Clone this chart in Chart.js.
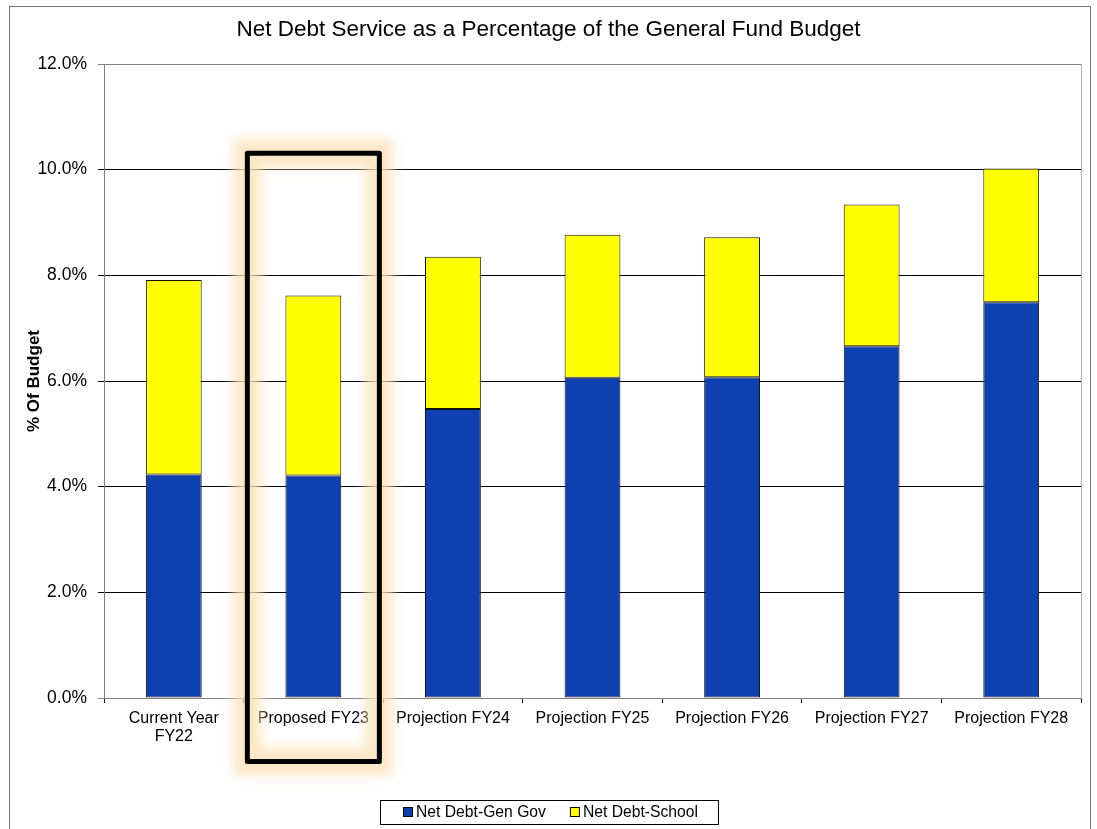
<!DOCTYPE html>
<html><head><meta charset="utf-8">
<script src="https://cdn.jsdelivr.net/npm/chart.js@4"></script>
<style>html,body{margin:0;padding:0;background:#fff;overflow:hidden}#wrap{width:1097px;height:829px;position:relative}canvas{display:block}</style>
</head><body><div id="wrap"><canvas id="c" width="1097" height="829"></canvas></div>
<script>
// ---- data ----
const categories = [['Current Year', 'FY22'], 'Proposed FY23', 'Projection FY24', 'Projection FY25', 'Projection FY26', 'Projection FY27', 'Projection FY28'];
const genGovValues = [4.23, 4.21, 5.47, 6.06, 6.07, 6.66, 7.49];
const schoolValues = [3.68, 3.41, 2.88, 2.71, 2.65, 2.68, 2.53];
const seriesNames = ['Net Debt-Gen Gov', 'Net Debt-School'];
const yTicks = [0, 2, 4, 6, 8, 10, 12];
const chartTitle = 'Net Debt Service as a Percentage of the General Fund Budget';
const yAxisTitle = '% Of Budget';
// highlighted category and its frame extent (in % units)
const highlightIndex = 1;
const highlightRange = [-1.20, 10.31];

const FONT = 'Arial, "Liberation Sans", sans-serif';
Chart.defaults.font.family = FONT;
Chart.defaults.color = '#000';

const framePlugin = {
  id: 'frame',
  beforeDraw(chart) {
    const ctx = chart.ctx;
    ctx.save();
    ctx.fillStyle = '#fff';
    ctx.fillRect(0, 0, chart.width, chart.height);
    ctx.strokeStyle = '#777';
    ctx.lineWidth = 1;
    ctx.strokeRect(9.5, 6.5, 1081, 900);
    ctx.restore();
  },
  beforeDatasetsDraw(chart) {
    const {ctx, chartArea: a} = chart;
    ctx.save();
    ctx.lineWidth = 1;
    ctx.strokeStyle = '#b0b0b0';
    ctx.beginPath();
    ctx.moveTo(Math.round(a.right) + 0.5, a.top);
    ctx.lineTo(Math.round(a.right) + 0.5, a.bottom);
    ctx.stroke();
    ctx.restore();
  }
};

const highlightPlugin = {
  id: 'highlight',
  afterDraw(chart) {
    const {ctx} = chart;
    const xs = chart.scales.x, ys = chart.scales.y;
    const cw = xs.getPixelForValue(1) - xs.getPixelForValue(0);
    const cx = xs.getPixelForValue(highlightIndex);
    const L = cx - cw * 0.473, R = cx + cw * 0.473;
    const T = ys.getPixelForValue(highlightRange[1]);
    const B = ys.getPixelForValue(highlightRange[0]);
    ctx.save();
    ctx.filter = 'blur(6px)';
    ctx.strokeStyle = 'rgba(251,226,185,0.8)';
    ctx.lineWidth = 28;
    ctx.strokeRect(L, T, R - L, B - T);
    ctx.filter = 'none';
    ctx.strokeStyle = '#000';
    ctx.lineWidth = 5;
    ctx.lineJoin = 'round';
    ctx.strokeRect(L, T, R - L, B - T);
    ctx.restore();
  }
};

const legendPlugin = {
  id: 'boxLegend',
  afterDraw(chart) {
    const {ctx} = chart;
    const items = chart.data.datasets.map(d => ({text: d.label, color: d.backgroundColor}));
    ctx.save();
    ctx.font = '15.7px ' + FONT;
    const widths = items.map(it => ctx.measureText(it.text).width);
    const padL = 23, padR = 20, box = 10, gap = 3, itemGap = 24;
    let total = padL + padR;
    widths.forEach((w, i) => { total += box + gap + w + (i > 0 ? itemGap : 0); });
    const left = Math.round(chart.width / 2 - total / 2) + 1;
    const top = 800, h = 24, cy = top + h / 2;
    ctx.strokeStyle = '#000';
    ctx.lineWidth = 1;
    ctx.strokeRect(left + 0.5, top + 0.5, total, h);
    let x = left + padL;
    ctx.textBaseline = 'middle';
    ctx.textAlign = 'left';
    items.forEach((it, i) => {
      if (i > 0) x += itemGap;
      ctx.fillStyle = it.color;
      ctx.fillRect(x, cy - 5, box, box);
      ctx.strokeStyle = '#000';
      ctx.strokeRect(x + 0.5, cy - 5 + 0.5, box - 1, box - 1);
      x += box + gap;
      ctx.fillStyle = '#000';
      ctx.fillText(it.text, x, cy + 1);
      x += widths[i];
    });
    ctx.restore();
  }
};

const barColors = ['#0E40B0', '#FFFF00'];

new Chart(document.getElementById('c'), {
  type: 'bar',
  data: {
    labels: categories,
    datasets: [
      {label: seriesNames[0], data: genGovValues, backgroundColor: barColors[0], borderColor: '#111', borderWidth: 1, borderSkipped: false, categoryPercentage: 1, barPercentage: 0.4},
      {label: seriesNames[1], data: schoolValues, backgroundColor: barColors[1], borderColor: '#111', borderWidth: 1, borderSkipped: false, categoryPercentage: 1, barPercentage: 0.4}
    ]
  },
  options: {
    responsive: false,
    animation: false,
    devicePixelRatio: 1,
    layout: {padding: {left: 16, right: 16, top: 0, bottom: 0}},
    plugins: {
      legend: {display: false},
      tooltip: {enabled: false},
      title: {display: true, text: chartTitle, color: '#000', font: {size: 22.5, weight: 'normal'}, padding: {top: 16, bottom: 21}}
    },
    scales: {
      x: {
        stacked: true,
        grid: {drawOnChartArea: false, drawTicks: true, tickLength: 5, color: '#000', offset: true},
        border: {color: '#808080'},
        ticks: {color: '#000', font: {size: 16, lineHeight: 1.15}, padding: 6, maxRotation: 0, autoSkip: false},
        afterFit: s => { s.height = 131; }
      },
      y: {
        stacked: true,
        min: yTicks[0],
        max: yTicks[yTicks.length - 1],
        afterBuildTicks: s => { s.ticks = yTicks.map(v => ({value: v})); },
        grid: {color: c => (c.tick && (c.tick.value === 12 || c.tick.value === 0)) ? '#808080' : '#000', tickLength: 6},
        border: {color: '#808080'},
        ticks: {color: '#000', font: {size: 17.5}, padding: 11, callback: v => Number(v).toFixed(1) + '%'},
        title: {display: true, text: yAxisTitle, color: '#000', font: {size: 17, weight: 'bold'}, padding: {top: 8, bottom: 0}},
        afterFit: s => { s.width = 88; }
      }
    }
  },
  plugins: [framePlugin, highlightPlugin, legendPlugin]
});
</script>
</body></html>
